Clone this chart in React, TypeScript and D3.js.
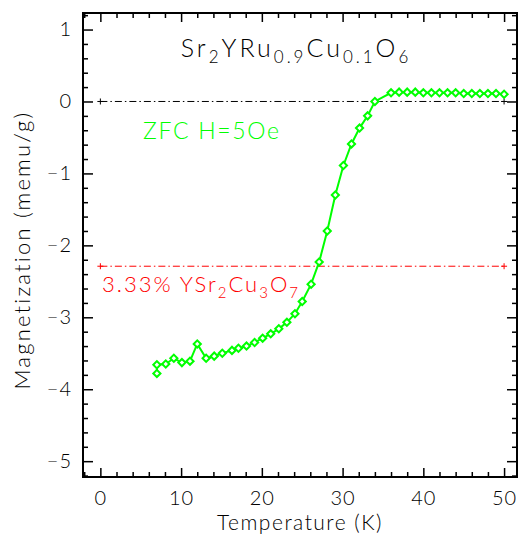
import React, { useEffect, useRef } from "react";
import * as d3 from "d3";

// ZFC curve, H = 5 Oe
const temperature = [
  7, 7, 8.1, 9.1, 10.1, 11.1, 12, 13.1, 14.1, 15.1, 16.3, 17.1, 18.1, 19.1, 20.1,
  21.1, 22.1, 23.1, 24.1, 25, 26.1, 27.1, 28.1, 29.1, 30.1, 31.1, 32.1, 33.1, 34,
  36, 37, 38, 39, 40, 41, 42, 43, 44, 45, 46, 47, 48, 49, 50,
];
const magnetization = [
  -3.78, -3.66, -3.65, -3.57, -3.63, -3.61, -3.37, -3.57, -3.54, -3.5, -3.46, -3.43,
  -3.4, -3.35, -3.29, -3.23, -3.16, -3.07, -2.95, -2.78, -2.54, -2.23, -1.8, -1.3,
  -0.89, -0.59, -0.37, -0.2, 0.0, 0.12, 0.13, 0.13, 0.13, 0.12, 0.12, 0.12, 0.12,
  0.12, 0.11, 0.11, 0.11, 0.11, 0.11, 0.1,
];

const xTicks = [0, 10, 20, 30, 40, 50];
const yTicks = [1, 0, -1, -2, -3, -4, -5];
const refSpan = [0, 50];
const zeroLevel = 0;
const impurityLevel = -2.29; // 3.33% YSr2Cu3O7 contribution

const FONT = "Lato, 'DejaVu Sans', sans-serif";
const WEIGHT = 300;
const GREEN = "#00ff00";
const RED = "#ff0000";

const App = () => {
  const ref = useRef<SVGSVGElement>(null);

  useEffect(() => {
    draw();
  });

  const draw = () => {
    const svg = d3.select(ref.current);
    svg.selectAll("*").remove();

    const left = 83,
      right = 517,
      top = 13,
      bottom = 477;

    const x = d3.scaleLinear().domain([-2.15, 51.6]).range([left, right]);
    const y = d3.scaleLinear().domain([-5.22, 1.23]).range([bottom, top]);

    const xMinor = d3.range(-2, 52, 2).filter((v) => v % 10 !== 0);
    const yMinor = d3
      .range(-26, 7)
      .map((v) => v / 5)
      .filter((v) => Math.abs(v - Math.round(v)) > 0.01);

    const styleAxis = (g: any) => {
      g.select(".domain").remove();
      g.selectAll("line").attr("stroke", "#000").attr("stroke-width", 1.5);
      g.selectAll("text")
        .attr("font-family", FONT)
        .attr("font-weight", WEIGHT)
        .attr("font-size", 20)
        .attr("letter-spacing", 1)
        .attr("fill", "#000");
    };
    const intFmt = d3.format("d");

    // bottom
    svg
      .append("g")
      .attr("transform", `translate(0,${bottom})`)
      .call(
        d3.axisBottom(x).tickValues(xTicks).tickSize(-9).tickPadding(14).tickFormat(intFmt)
      )
      .call(styleAxis);
    svg
      .append("g")
      .attr("transform", `translate(0,${bottom})`)
      .call(d3.axisBottom(x).tickValues(xMinor).tickSize(-5).tickFormat(() => ""))
      .call(styleAxis);
    // top
    svg
      .append("g")
      .attr("transform", `translate(0,${top})`)
      .call(d3.axisTop(x).tickValues(xTicks).tickSize(-9).tickFormat(() => ""))
      .call(styleAxis);
    svg
      .append("g")
      .attr("transform", `translate(0,${top})`)
      .call(d3.axisTop(x).tickValues(xMinor).tickSize(-5).tickFormat(() => ""))
      .call(styleAxis);
    // left
    svg
      .append("g")
      .attr("transform", `translate(${left},0)`)
      .call(
        d3.axisLeft(y).tickValues(yTicks).tickSize(-10).tickPadding(11).tickFormat(intFmt)
      )
      .call(styleAxis);
    svg
      .append("g")
      .attr("transform", `translate(${left},0)`)
      .call(d3.axisLeft(y).tickValues(yMinor).tickSize(-5).tickFormat(() => ""))
      .call(styleAxis);
    // right
    svg
      .append("g")
      .attr("transform", `translate(${right},0)`)
      .call(d3.axisRight(y).tickValues(yTicks).tickSize(-10).tickFormat(() => ""))
      .call(styleAxis);
    svg
      .append("g")
      .attr("transform", `translate(${right},0)`)
      .call(d3.axisRight(y).tickValues(yMinor).tickSize(-5).tickFormat(() => ""))
      .call(styleAxis);

    // frame
    svg
      .append("rect")
      .attr("x", left)
      .attr("y", top)
      .attr("width", right - left)
      .attr("height", bottom - top)
      .attr("fill", "none")
      .attr("stroke", "#000")
      .attr("stroke-width", 2);

    // reference lines
    const refLine = (level: number, color: string) => {
      svg
        .append("path")
        .datum(refSpan)
        .attr("fill", "none")
        .attr("stroke", color)
        .attr("stroke-width", 1)
        .attr("stroke-dasharray", "7 3 1.5 3")
        .attr(
          "d",
          d3
            .line<number>()
            .x((d) => x(d))
            .y(() => y(level))
        );
      svg
        .selectAll(null)
        .data(refSpan)
        .enter()
        .append("path")
        .attr("stroke", color)
        .attr("stroke-width", 1)
        .attr("d", (d) => {
          const px = x(d),
            py = y(level);
          return `M${px - 3},${py}h6M${px},${py - 3}v6`;
        });
    };
    refLine(zeroLevel, "#000");
    refLine(impurityLevel, RED);

    // data
    const idx = d3.range(temperature.length);
    svg
      .append("path")
      .datum(idx)
      .attr("fill", "none")
      .attr("stroke", GREEN)
      .attr("stroke-width", 2)
      .attr(
        "d",
        d3
          .line<number>()
          .x((i) => x(temperature[i]))
          .y((i) => y(magnetization[i]))
      );
    svg
      .selectAll(null)
      .data(idx)
      .enter()
      .append("path")
      .attr("d", d3.symbol(d3.symbolSquare, 26)())
      .attr(
        "transform",
        (i) => `translate(${x(temperature[i])},${y(magnetization[i])}) rotate(45)`
      )
      .attr("fill", "#fff")
      .attr("stroke", GREEN)
      .attr("stroke-width", 2);

    const subText = (
      g: any,
      parts: [string, boolean][],
      big: number,
      small: number
    ) => {
      parts.forEach(([t, sub], k) => {
        g.append("tspan")
          .attr("font-size", sub ? small : big)
          .attr("dy", k === 0 ? 0 : sub ? 6 : -6)
          .text(t);
      });
    };

    // title
    const title = svg
      .append("text")
      .attr("x", 296)
      .attr("y", 57)
      .attr("text-anchor", "middle")
      .attr("font-family", FONT)
      .attr("font-weight", WEIGHT)
      .attr("letter-spacing", 3)
      .attr("fill", "#000");
    subText(
      title,
      [
        ["Sr", false],
        ["2", true],
        ["YRu", false],
        ["0.9", true],
        ["Cu", false],
        ["0.1", true],
        ["O", false],
        ["6", true],
      ],
      25,
      17
    );

    // annotations
    svg
      .append("text")
      .attr("x", 143)
      .attr("y", 139)
      .attr("font-family", FONT)
      .attr("font-weight", WEIGHT)
      .attr("font-size", 23)
      .attr("letter-spacing", 1.7)
      .attr("fill", GREEN)
      .text("ZFC H=5Oe");

    const imp = svg
      .append("text")
      .attr("x", 102)
      .attr("y", 292)
      .attr("font-family", FONT)
      .attr("font-weight", WEIGHT)
      .attr("letter-spacing", 2)
      .attr("fill", RED);
    subText(
      imp,
      [
        ["3.33% YSr", false],
        ["2", true],
        ["Cu", false],
        ["3", true],
        ["O", false],
        ["7", true],
      ],
      22,
      15
    );

    // axis titles
    svg
      .append("text")
      .attr("x", (left + right) / 2)
      .attr("y", 530)
      .attr("text-anchor", "middle")
      .attr("font-family", FONT)
      .attr("font-weight", WEIGHT)
      .attr("font-size", 21)
      .attr("letter-spacing", 1.5)
      .attr("fill", "#000")
      .text("Temperature (K)");
    svg
      .append("text")
      .attr("transform", `translate(30,250) rotate(-90)`)
      .attr("text-anchor", "middle")
      .attr("font-family", FONT)
      .attr("font-weight", WEIGHT)
      .attr("font-size", 22)
      .attr("letter-spacing", 2.2)
      .attr("fill", "#000")
      .text("Magnetization (memu/g)");
  };

  return (
    <svg
      ref={ref}
      width={523}
      height={534}
      style={{ position: "absolute", left: 0, top: 0, background: "#fff" }}
    />
  );
};

export default App;
